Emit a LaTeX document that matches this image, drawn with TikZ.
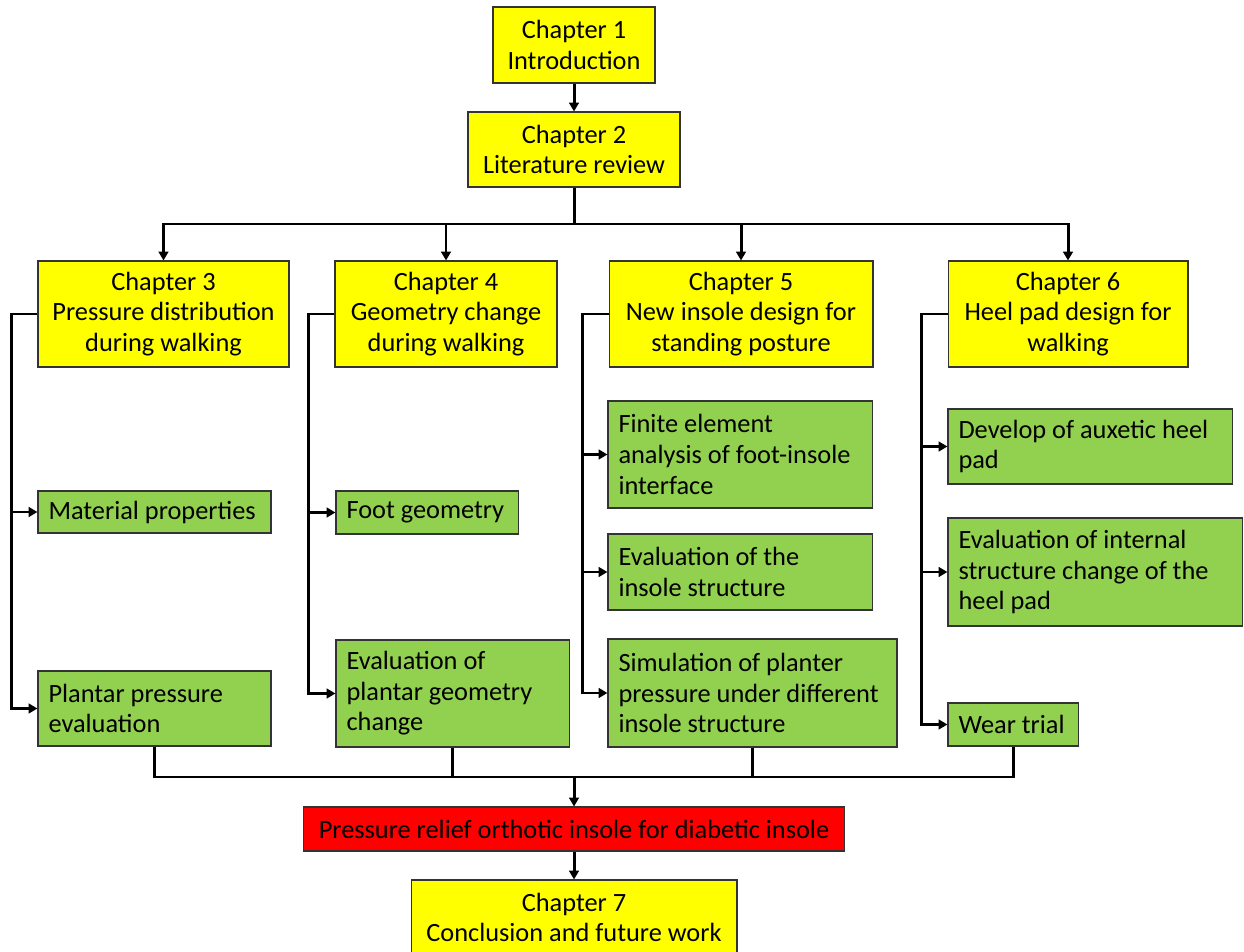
\documentclass[tikz,border=0pt]{standalone}
\usepackage{fontspec}
\setmainfont{Carlito}
\usetikzlibrary{arrows.meta}
\definecolor{chapyellow}{HTML}{FFFF00}
\definecolor{taskgreen}{HTML}{92D050}
\definecolor{goalred}{HTML}{FF0000}

\begin{document}
\begin{tikzpicture}[x=0.02cm, y=-0.02cm,
		font=\fontsize{15}{17.4}\selectfont,
		chapbox/.style={draw=black!80, line width=0.6pt, fill=chapyellow, align=center, inner sep=2pt},
		taskbox/.style={draw=black!80, line width=0.6pt, fill=taskgreen, align=flush left, inner xsep=6pt, inner ysep=2pt, text width=#1},
		goalbox/.style={draw=black!80, line width=0.6pt, fill=goalred, align=center, inner sep=2pt},
		link/.style={line width=1.7pt},
		arr/.style={link, -{Triangle[length=5pt,width=5.5pt]}}]
		\useasboundingbox (0,0) rectangle (1244,952);

		\node[chapbox, minimum width=3.24cm, minimum height=1.52cm] (ch1) at (574,45) {Chapter 1\\Introduction};
		\node[chapbox, minimum width=4.24cm, minimum height=1.50cm] (ch2) at (574,149.5) {Chapter 2\\Literature review};

		\node[chapbox, minimum width=5.02cm, minimum height=2.12cm] (ch3) at (163.5,314) {Chapter 3\\Pressure distribution\\during walking};
		\node[chapbox, minimum width=4.44cm, minimum height=2.12cm] (ch4) at (446,314) {Chapter 4\\Geometry change\\during walking};
		\node[chapbox, minimum width=5.28cm, minimum height=2.12cm] (ch5) at (741,314) {Chapter 5\\New insole design for\\standing posture};
		\node[chapbox, minimum width=4.80cm, minimum height=2.12cm] (ch6) at (1068,314) {Chapter 6\\Heel pad design for\\walking};

		\node[taskbox=4.24cm, minimum height=0.84cm] (matprop) at (154.5,512) {Material properties};
		\node[taskbox=4.24cm, minimum height=1.50cm] (ppeval) at (154.5,708.5) {Plantar pressure\\evaluation};

		\node[taskbox=3.22cm, minimum height=0.86cm] (footgeo) at (427,512.5) {Foot geometry};
		\node[taskbox=4.24cm, minimum height=2.14cm] (pgeval) at (452.5,693.5) {Evaluation of\\plantar geometry\\change};

		\node[taskbox=4.86cm, minimum height=2.14cm] (fea) at (740,454.5) {Finite element\\analysis of foot-insole\\interface};
		\node[taskbox=4.86cm, minimum height=1.52cm] (inseval) at (740,572) {Evaluation of the\\insole structure};
		\node[taskbox=5.36cm, minimum height=2.16cm] (ppsim) at (752.5,693) {Simulation of planter\\pressure under different\\insole structure};

		\node[taskbox=5.26cm, minimum height=1.50cm] (auxpad) at (1090,446.5) {Develop of auxetic heel\\pad};
		\node[taskbox=5.46cm, minimum height=2.16cm] (padeval) at (1095,572) {Evaluation of internal\\structure change of the\\heel pad};
		\node[taskbox=2.18cm, minimum height=0.86cm] (wear) at (1013,724.5) {Wear trial};

		\node[goalbox, minimum width=10.84cm, minimum height=0.88cm] (goal) at (574,829) {Pressure relief orthotic insole for diabetic insole};
		\node[chapbox, minimum width=6.52cm, minimum height=1.50cm] (ch7) at (574,917.5) {Chapter 7\\Conclusion and future work};

		\draw[arr] (ch1) -- (ch2);
		\coordinate (topbus) at (574,224);
		\draw[link] (ch2.south) -- (topbus);
		\draw[arr] (topbus) -| (ch3.north);
		\draw[arr] (topbus) -| (ch4.north);
		\draw[arr] (topbus) -| (ch5.north);
		\draw[arr] (topbus) -| (ch6.north);

		\coordinate (f3) at ([xshift=-0.52cm]ch3.west);
		\draw[arr] (ch3.west) -- (f3) |- (matprop.west);
		\draw[arr] (f3) |- (ppeval.west);

		\coordinate (f4) at ([xshift=-0.52cm]ch4.west);
		\draw[arr] (ch4.west) -- (f4) |- (footgeo.west);
		\draw[arr] (f4) |- (pgeval.west);

		\coordinate (f5) at ([xshift=-0.52cm]ch5.west);
		\draw[arr] (ch5.west) -- (f5) |- (fea.west);
		\draw[arr] (f5) |- (inseval.west);
		\draw[arr] (f5) |- (ppsim.west);

		\coordinate (f6) at ([xshift=-0.52cm]ch6.west);
		\draw[arr] (ch6.west) -- (f6) |- (auxpad.west);
		\draw[arr] (f6) |- (padeval.west);
		\draw[arr] (f6) |- (wear.west);

		\coordinate (lowbus) at (574,777);
		\draw[link] (ppeval.south) |- (lowbus) -| (wear.south);
		\draw[link] (pgeval.south) -- (pgeval.south |- lowbus);
		\draw[link] (ppsim.south) -- (ppsim.south |- lowbus);
		\draw[arr] (lowbus) -- (goal);
		\draw[arr] (goal) -- (ch7);
\end{tikzpicture}
\end{document}
